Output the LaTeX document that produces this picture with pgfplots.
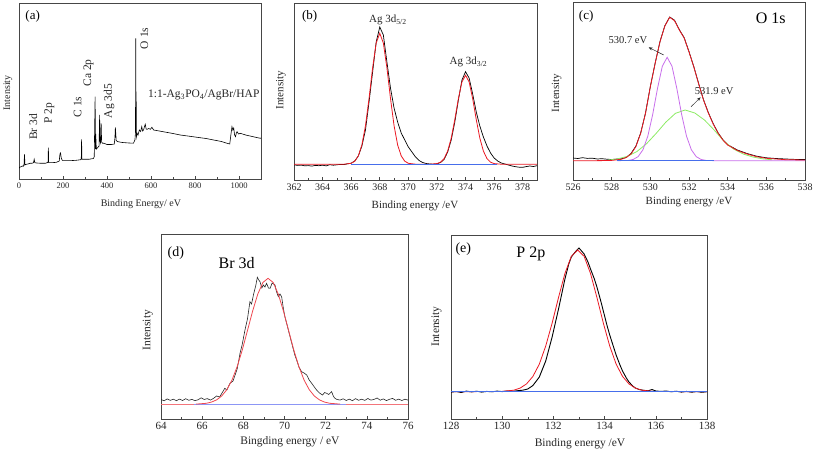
\documentclass[border=0pt]{standalone}
\usepackage{pgfplots}
\pgfplotsset{compat=1.18}
\usepackage{fontspec}
\setmainfont{Liberation Serif}
\usetikzlibrary{arrows.meta}

\definecolor{fitred}{RGB}{235,25,35}
\definecolor{fitmag}{RGB}{200,110,235}
\definecolor{fitgreen}{RGB}{140,235,100}
\definecolor{baseblue}{RGB}{70,110,235}
\definecolor{lavblue}{RGB}{140,150,245}
\definecolor{framegray}{RGB}{70,70,70}

\pgfplotsset{
  panel/.style={
    scale only axis, anchor=south west, ymin=0,
    axis line style={framegray, line width=0.7pt},
    ytick=\empty, xtick pos=left, tick align=inside,
    major tick length=3pt, minor tick length=2pt,
    every tick/.style={framegray, line width=0.6pt},
    minor x tick num=1,
    scaled x ticks=false,
    /pgf/number format/1000 sep={},
    /pgf/number format/assume math mode=true,
    tick label style={font=\fontsize{10}{12}\selectfont, text=black!85},
    label style={font=\fontsize{11}{13}\selectfont, text=black!85},
    ylabel=Intensity,
  },
  dat/.style={black, line width=0.7pt},
  fit/.style={fitred, line width=0.8pt},
}

\begin{document}
\begin{tikzpicture}
\useasboundingbox (0,0) rectangle (813pt,453pt);

% ---------------- (a) ----------------
\begin{axis}[panel, at={(19pt,274pt)}, width=242pt, height=176pt,
  xmin=0, xmax=1100, ymax=176, xtick={0,200,...,1000},
  tick label style={font=\fontsize{8.5}{10}\selectfont},
  label style={font=\fontsize{10}{12}\selectfont},
  xlabel={Binding Energy/ eV},
  xlabel style={at={(axis description cs:0.504,-0.142)},anchor=center},
  ylabel style={at={(axis description cs:-0.046,0.489)},anchor=center}]
\addplot[black, line width=0.6pt] coordinates {
(0,10.7)(5,12)(10,12.3)(15,13)(20,12.7)(23,15)(25,24.7)(27,14)(30,14.5)(40,15)(50,15.7)(60,15.8)(66,16.3)(69,19.7)(72,16.3)(80,16)(100,15.7)(120,15.7)(130,16.5)(132,17)(133.5,31.3)(135,16.3)(150,16.3)(170,16.7)(183,18)(186,25)(189,26)(192,21)(196,19)(200,18.3)(230,18.3)(260,18.7)(280,19.3)(283,20)(284.5,39.7)(286,19.7)(300,19.7)(320,19.8)(338,20.5)(342,22.3)(346,82.3)(347.5,30)(349,45)(350.5,35)(352,30)(356,31)(360,32)(364,33)(366.5,64)(368,38)(371,36)(373.5,55.7)(375.5,37)(380,35.7)(386,35.7)(400,34.5)(420,34.5)(433,35)(436,41)(438,51.7)(440,45)(442,38.3)(450,37.3)(470,36.5)(500,36)(520,35.8)(527,39)(529.5,47)(530.5,140.7)(531.5,60)(532.5,87.3)(533.5,42)(537,45.7)(541,44)(547,49)(553,47.5)(558,52.3)(562,48)(566,49)(570,52)(574,54.7)(578,50)(582,49.7)(590,50.5)(597,49.7)(604,51.7)(612,49)(650,47.5)(700,45.5)(733,44)(800,42)(850,40.5)(885,39)(920,37.5)(946,35.7)(958,35)(963,44)(968,52.3)(972,49)(976,51)(980,44)(984,42.3)(988,46)(991,47.3)(998,45)(1006,45.7)(1030,44)(1060,42.5)(1097,40.7)(1100,41)};
\node[font=\fontsize{13}{15}\selectfont] at (axis cs:62,163) {(a)};
\begin{scope}[every node/.style={rotate=90, font=\fontsize{11.5}{13}\selectfont, text=black!85}]
\node at (axis cs:65,52) {Br 3d};
\node at (axis cs:138,65.7) {P 2p};
\node at (axis cs:266,72) {C 1s};
\node at (axis cs:316,106) {Ca 2p};
\node at (axis cs:410,78) {Ag 3d5};
\node at (axis cs:570,140.7) {O 1s};
\end{scope}
\node[font=\fontsize{11.5}{13}\selectfont, text=black!85] at (axis cs:840,84) {1:1-Ag\textsubscript{3}PO\textsubscript{4}/AgBr/HAP};
\end{axis}

% ---------------- (b) ----------------
\begin{axis}[panel, at={(294pt,273pt)}, width=243pt, height=177pt,
  xmin=362, xmax=379, ymax=177, xtick={362,364,...,378},
  xlabel={Binding energy /eV},
  xlabel style={at={(axis description cs:0.498,-0.147)},anchor=center},
  ylabel style={at={(axis description cs:-0.0535,0.508)},anchor=center}]
\addplot[dat] coordinates {
(362,15.2)(362.25,14.6)(362.5,14.9)(362.75,14.2)(363,14.4)(363.25,13.9)(363.5,14.6)(363.75,14.3)(364,14.8)(364.25,14.1)(364.5,15.3)(364.75,14.8)(365,15.2)(365.25,15.6)(365.5,15.4)(365.75,16.2)(366,16.8)(366.25,19)(366.5,24)(366.75,34)(367,50)(367.25,78)(367.5,108)(367.75,138)(368,153)(368.25,145)(368.5,118)(368.75,92)(369,72)(369.25,58)(369.5,47)(369.75,40)(370,33)(370.25,28)(370.5,23)(370.75,19.5)(371,17.5)(371.25,16.5)(371.5,16)(371.75,15.8)(372,16.2)(372.25,17.5)(372.5,20.5)(372.75,28)(373,40)(373.25,58)(373.5,80)(373.75,100)(374,108.3)(374.25,102)(374.5,86)(374.75,68)(375,54)(375.25,43)(375.5,34)(375.75,27)(376,22)(376.25,19)(376.5,17)(376.75,16)(377,15)(377.25,14)(377.5,13.3)(377.75,12.8)(378,12.7)(378.25,13.4)(378.5,14)(378.75,13.5)(379,14.3)};
\addplot[fit] coordinates {
(362,15.7)(365.5,15.8)(366,16.7)(366.25,18.8)(366.5,24.1)(366.75,35.1)(367,54.3)(367.25,81.6)(367.5,112.2)(367.75,137.0)(368,146.7)(368.25,137.0)(368.5,112.2)(368.75,81.6)(369,54.3)(369.25,35.1)(369.5,24.1)(369.75,18.8)(370,16.7)(370.5,15.8)(371.5,15.8)(372,16.4)(372.25,17.8)(372.5,21.4)(372.75,28.9)(373,41.9)(373.25,60.5)(373.5,81.3)(373.75,98.1)(374,104.7)(374.25,98.1)(374.5,81.3)(374.75,60.5)(375,41.9)(375.25,28.9)(375.5,21.4)(375.75,17.8)(376,16.4)(376.5,15.8)(379,15.7)};
\addplot[baseblue, line width=0.7pt] coordinates {(366,15.7)(376.2,15.7)};
\node[font=\fontsize{13}{15}\selectfont] at (axis cs:363.1,163.7) {(b)};
\node[anchor=west, font=\fontsize{11}{13}\selectfont, text=black!85, inner sep=0pt] at (axis cs:367.24,160) {Ag 3d\textsubscript{5/2}};
\node[anchor=west, font=\fontsize{11}{13}\selectfont, text=black!85, inner sep=0pt] at (axis cs:372.88,118) {Ag 3d\textsubscript{3/2}};
\end{axis}

% ---------------- (c) ----------------
\begin{axis}[panel, at={(573pt,273pt)}, width=232pt, height=178pt,
  xmin=526, xmax=538, ymax=178, xtick={526,528,...,538},
  xlabel={Binding energy /eV},
  xlabel style={at={(axis description cs:0.5,-0.122)},anchor=center},
  ylabel style={at={(axis description cs:-0.0705,0.489)},anchor=center}]
\addplot[dat] coordinates {
(526,22)(526.25,21.5)(526.5,22.3)(526.75,21.6)(527,21.8)(527.25,21)(527.5,21.3)(527.75,20.8)(528,20.5)(528.25,20.9)(528.5,21.2)(528.75,22.5)(529,26.5)(529.25,33.8)(529.5,47)(529.75,67)(530,93.5)(530.25,117)(530.5,138.5)(530.75,154.2)(531,163)(531.25,159.8)(531.5,150.3)(531.75,142.3)(532,128.4)(532.25,113.2)(532.5,96.4)(532.75,80.3)(533,67.4)(533.25,56.4)(533.5,47.3)(533.75,40.4)(534,35.3)(534.5,30)(535,26.5)(535.5,23.8)(536,22.2)(536.5,21.5)(537,21)(537.5,20.6)(538,20.5)};
\addplot[fitgreen, line width=0.8pt] coordinates {
(527.8,19.9)(528.3,21.1)(528.8,23.6)(529.3,28.4)(529.8,36.2)(530.3,46.6)(530.8,57.8)(531.3,66.7)(531.8,70.0)(532.3,67)(532.8,60)(533.3,50)(533.8,39)(534.3,31)(534.8,26)(535.3,23)(535.8,21.2)(536.3,20.2)};
\addplot[fitmag, line width=0.8pt] coordinates {
(528.3,19.3)(528.87,19.6)(529.12,20.6)(529.37,23.4)(529.62,30.3)(529.87,43.9)(530.12,65.4)(530.37,91.5)(530.62,113.8)(530.87,122.7)(531.12,113.8)(531.37,91.5)(531.62,65.4)(531.87,43.9)(532.12,30.3)(532.37,23.4)(532.62,20.6)(532.87,19.6)(533.37,19.3)(538,19.3)};
\addplot[fit] coordinates {
(526,19.3)(527,19.3)(527.5,19.4)(528,19.6)(528.5,20.7)(528.75,22.5)(529,26)(529.25,33.3)(529.5,46.7)(529.75,66.7)(530,93.3)(530.25,116.7)(530.5,138.3)(530.75,154)(531,162.7)(531.25,159.3)(531.5,150)(531.75,142)(532,128)(532.25,113)(532.5,96)(532.75,80)(533,67)(533.25,56)(533.5,47)(533.75,40)(534,35)(534.5,29.5)(535,26)(535.5,23.3)(536,21.7)(537,20.3)(538,20)};
\addplot[baseblue, line width=0.7pt] coordinates {(528.3,19.3)(533.3,19.3)};
\node[font=\fontsize{13}{15}\selectfont] at (axis cs:526.68,164) {(c)};
\node[font=\fontsize{16}{18}\selectfont] at (axis cs:536.23,161.5) {O 1s};
\node[font=\fontsize{10.5}{12}\selectfont, text=black!85] at (axis cs:528.84,140) {530.7 eV};
\node[font=\fontsize{10.5}{12}\selectfont, text=black!85] at (axis cs:533.3,89) {531.9 eV};
\draw[black!85, line width=0.5pt, -{Stealth[length=4pt,width=3pt]}] (axis cs:530.69,125) -- (axis cs:529.91,132.7);
\draw[black!85, line width=0.5pt, -{Stealth[length=4pt,width=3pt]}] (axis cs:532.11,73.3) -- (axis cs:532.6,82.7);
\end{axis}

% ---------------- (d) ----------------
\begin{axis}[panel, at={(161pt,34pt)}, width=247pt, height=185pt,
  xmin=64, xmax=76, ymax=185, xtick={64,66,...,76},
  tick label style={font=\fontsize{11}{13}\selectfont},
  label style={font=\fontsize{11.5}{13}\selectfont},
  xlabel={Bingding energy / eV},
  xlabel style={at={(axis description cs:0.522,-0.123)},anchor=center},
  ylabel style={at={(axis description cs:-0.053,0.481)},anchor=center}]
\addplot[fitred!60, line width=1pt] coordinates {(64,14.7)(76,14.7)};
\addplot[lavblue, line width=1pt] coordinates {(65.6,14.7)(73,14.7)};
\addplot[black!85, line width=0.6pt] coordinates {
(64,19.5)(64.15,18.2)(64.3,20.1)(64.45,18.6)(64.6,19.8)(64.75,18.3)(64.9,19.9)(65.05,18.5)(65.2,20.3)(65.35,18.7)(65.5,19.6)(65.65,18.4)(65.8,19.2)(65.95,21.2)(66.1,19.5)(66.25,20.4)(66.4,18.9)(66.55,20.6)(66.7,23)(66.85,22)(66.95,25.5)(67.1,30.7)(67.2,29)(67.35,35.7)(67.5,38)(67.6,44)(67.7,50)(67.84,65.7)(67.95,75)(68.08,89)(68.2,100)(68.32,117.3)(68.4,115)(68.49,124)(68.6,133)(68.68,141.7)(68.75,139)(68.81,137.3)(68.9,131)(68.97,134)(69.05,132)(69.13,135.7)(69.22,131)(69.3,130.7)(69.4,136)(69.54,134)(69.6,128)(69.7,122.3)(69.78,125)(69.86,122.3)(69.95,110)(70.02,102.3)(70.15,92)(70.27,82.3)(70.4,72)(70.5,64)(70.59,59)(70.7,52)(70.83,47.3)(70.95,46)(71.08,44)(71.2,39)(71.32,35.7)(71.45,32)(71.56,29)(71.65,27)(71.72,25.7)(71.85,24)(71.95,26.5)(72.05,25.7)(72.15,24.5)(72.29,27.3)(72.38,22.5)(72.45,20.7)(72.55,19.5)(72.7,19)(72.85,20.2)(73,18.5)(73.15,19.9)(73.3,18.3)(73.45,20.4)(73.6,18.7)(73.75,19.8)(73.9,18.6)(74.05,20.5)(74.2,18.9)(74.35,19.6)(74.5,21)(74.65,18.8)(74.8,20.1)(74.95,18.4)(75.1,19.7)(75.25,20.6)(75.4,18.7)(75.55,19.9)(75.7,18.5)(75.85,19.8)(76,18.9)};
\addplot[fit, fitred!80] coordinates {
(65.7,14.9)(66.2,15.7)(66.45,16.9)(66.7,19.1)(66.95,23.0)(67.2,29.4)(67.45,39.0)(67.7,52.4)(67.95,69.1)(68.2,88.4)(68.45,107.8)(68.7,124.8)(68.95,136.5)(69.2,140.7)(69.45,136.5)(69.7,124.8)(69.95,107.8)(70.2,88.4)(70.45,69.1)(70.7,52.4)(70.95,39.0)(71.2,29.4)(71.45,23.0)(71.7,19.1)(71.95,16.9)(72.2,15.7)(72.7,14.9)};
\node[font=\fontsize{14}{16}\selectfont] at (axis cs:64.72,165.7) {(d)};
\node[font=\fontsize{16}{18}\selectfont] at (axis cs:67.68,155.5) {Br 3d};
\end{axis}

% ---------------- (e) ----------------
\begin{axis}[panel, at={(451pt,34pt)}, width=256pt, height=184pt,
  xmin=128, xmax=138, ymax=184, xtick={128,130,...,138},
  tick label style={font=\fontsize{11}{13}\selectfont},
  label style={font=\fontsize{11.5}{13}\selectfont},
  xlabel={Binding energy /eV},
  xlabel style={at={(axis description cs:0.504,-0.136)},anchor=center},
  ylabel style={at={(axis description cs:-0.056,0.502)},anchor=center}]
\addplot[black, line width=0.9pt] coordinates {
(128,26.8)(128.2,27.5)(128.4,26.5)(128.6,27.9)(128.8,27.1)(129,27.8)(129.2,26.9)(129.4,27.6)(129.6,27.2)(129.8,27.9)(130,27.4)(130.2,28)(130.4,27.6)(130.6,28.3)(130.8,28.8)(131,30)(131.2,33.5)(131.45,42)(131.7,58)(131.95,82)(132.2,110)(132.35,128)(132.45,140)(132.6,155)(132.7,162)(132.85,167)(133,171)(133.1,168)(133.2,165)(133.35,157)(133.45,150)(133.6,140)(133.7,132)(133.85,118)(133.95,108)(134.1,93)(134.2,84)(134.35,72)(134.45,64)(134.6,54)(134.7,48)(134.85,41)(134.95,37)(135.1,33)(135.2,31)(135.35,29.5)(135.5,28.8)(135.7,28.2)(135.85,29.5)(136,28)(136.2,27.6)(136.4,28)(136.6,27.2)(136.8,27.8)(137,26.9)(137.2,27.6)(137.4,26.8)(137.6,27.5)(137.8,26.7)(138,27.3)};
\addplot[fit] coordinates {
(128,27.3)(129.95,27.5)(130.45,28.8)(130.7,30.9)(130.95,35.1)(131.2,42.6)(131.45,54.9)(131.7,73.0)(131.95,95.9)(132.2,121.5)(132.45,145.5)(132.7,162.7)(132.95,169.0)(133.2,162.7)(133.45,145.5)(133.7,121.5)(133.95,95.9)(134.2,73.0)(134.45,54.9)(134.7,42.6)(134.95,35.1)(135.2,30.9)(135.45,28.8)(135.95,27.5)(138,27.3)};
\addplot[baseblue, line width=0.7pt] coordinates {(128,27.3)(138,27.3)};
\node[font=\fontsize{14}{16}\selectfont] at (axis cs:128.48,170) {(e)};
\node[font=\fontsize{16}{18}\selectfont] at (axis cs:131.12,165) {P 2p};
\end{axis}
\end{tikzpicture}
\end{document}
